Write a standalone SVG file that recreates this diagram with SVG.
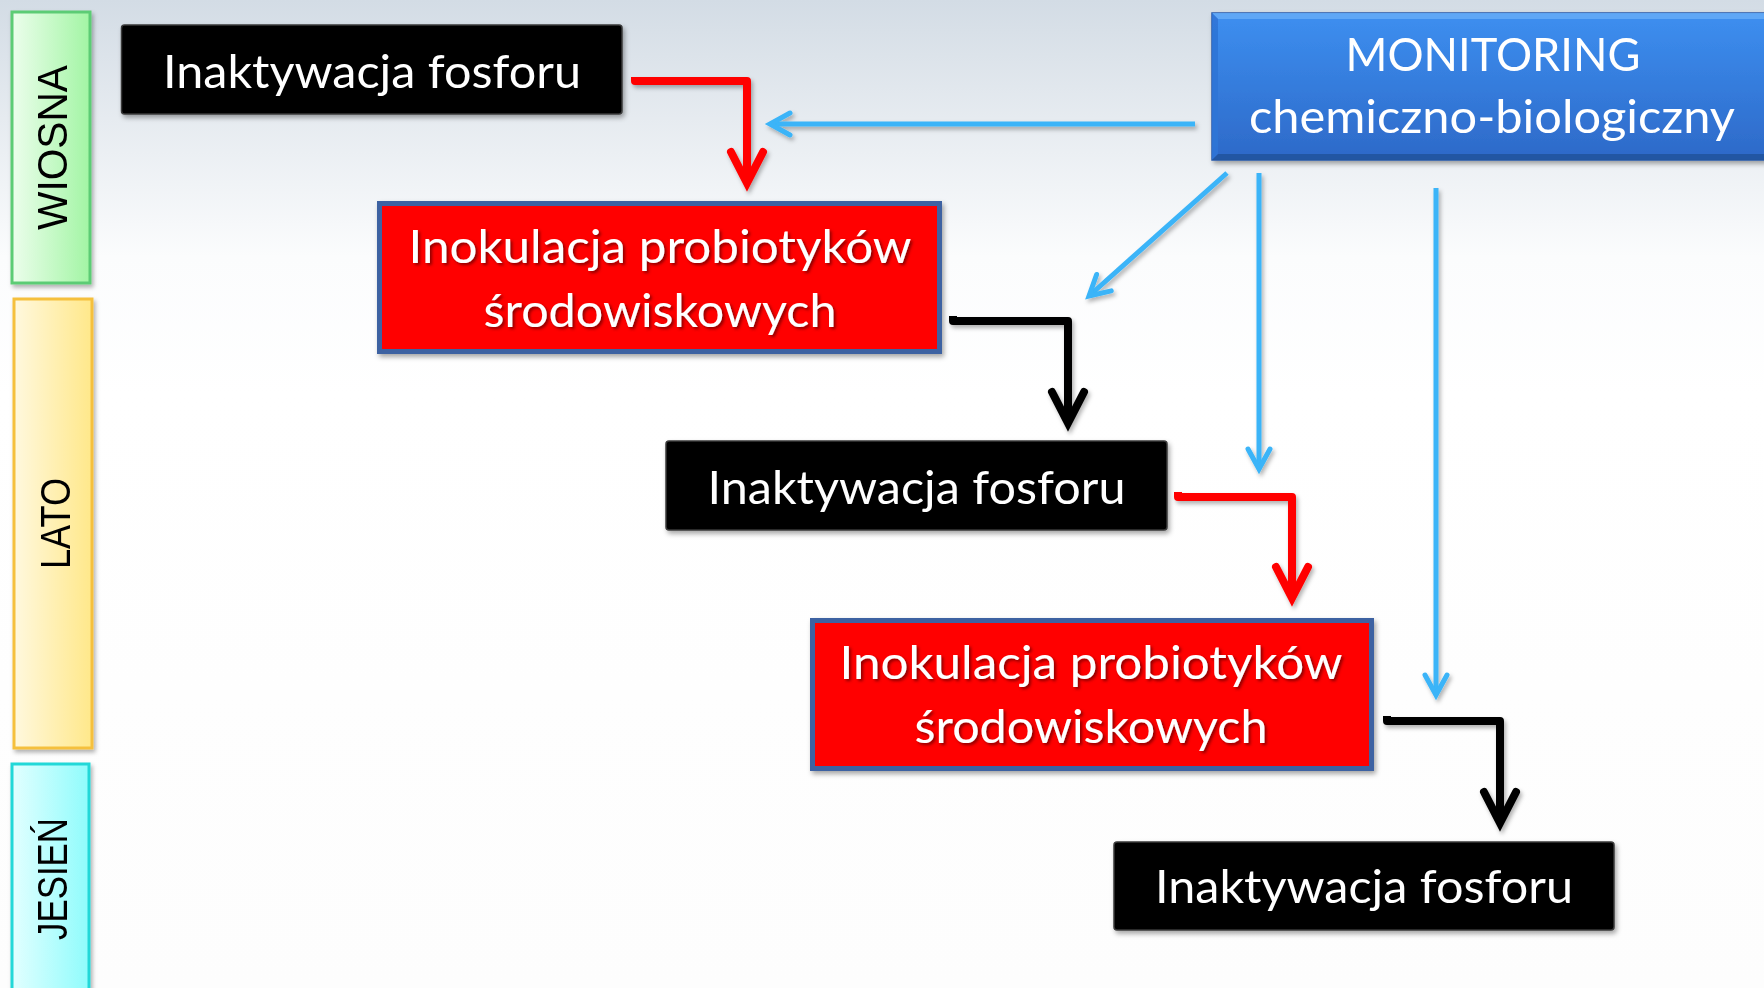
<svg xmlns="http://www.w3.org/2000/svg" width="1764" height="988" viewBox="0 0 1764 988">
<defs>
  <linearGradient id="bg" x1="0" y1="0" x2="0" y2="1">
    <stop offset="0" stop-color="#d3dce5"/>
    <stop offset="0.12" stop-color="#e6ebf0"/>
    <stop offset="0.26" stop-color="#fbfcfd"/>
    <stop offset="0.4" stop-color="#ffffff"/>
    <stop offset="1" stop-color="#fdfdfd"/>
  </linearGradient>
  <linearGradient id="gSpring" x1="0" y1="0" x2="1" y2="0">
    <stop offset="0" stop-color="#ecfeec"/>
    <stop offset="1" stop-color="#a2f5a4"/>
  </linearGradient>
  <linearGradient id="gSummer" x1="0" y1="0" x2="1" y2="0">
    <stop offset="0" stop-color="#fff8de"/>
    <stop offset="1" stop-color="#ffe88a"/>
  </linearGradient>
  <linearGradient id="gAutumn" x1="0" y1="0" x2="1" y2="0">
    <stop offset="0" stop-color="#e2ffff"/>
    <stop offset="1" stop-color="#8ffcfc"/>
  </linearGradient>
  <linearGradient id="gBlue" x1="0" y1="0" x2="0" y2="1">
    <stop offset="0" stop-color="#3d8ff0"/>
    <stop offset="1" stop-color="#2d69c8"/>
  </linearGradient>
  <filter id="shadow" x="-10%" y="-10%" width="130%" height="140%">
    <feDropShadow dx="2" dy="3" stdDeviation="2.5" flood-color="#000" flood-opacity="0.35"/>
  </filter>
  <filter id="lshadow" x="-10%" y="-10%" width="130%" height="130%">
    <feDropShadow dx="2" dy="3" stdDeviation="2" flood-color="#000" flood-opacity="0.3"/>
  </filter>
  <filter id="tshadow" x="-10%" y="-20%" width="120%" height="150%">
    <feDropShadow dx="2" dy="2" stdDeviation="1.5" flood-color="#5a0000" flood-opacity="0.7"/>
  </filter>
  <marker id="arrRed" markerUnits="userSpaceOnUse" viewBox="-40 -24 48 48" markerWidth="48" markerHeight="48" refX="0" refY="0" orient="auto" overflow="visible">
    <path d="M-31,-16 L0,0 L-31,16" fill="none" stroke="#ff0000" stroke-width="8" stroke-linecap="round" stroke-linejoin="miter"/>
  </marker>
  <marker id="arrBlack" markerUnits="userSpaceOnUse" viewBox="-40 -24 48 48" markerWidth="48" markerHeight="48" refX="0" refY="0" orient="auto" overflow="visible">
    <path d="M-31,-16 L0,0 L-31,16" fill="none" stroke="#000000" stroke-width="8" stroke-linecap="round" stroke-linejoin="miter"/>
  </marker>
  <marker id="arrBlue" markerUnits="userSpaceOnUse" viewBox="-30 -16 36 32" markerWidth="36" markerHeight="32" refX="0" refY="0" orient="auto" overflow="visible">
    <path d="M-20,-11 L0,0 L-20,11" fill="none" stroke="#3ab4f8" stroke-width="5" stroke-linecap="round" stroke-linejoin="miter"/>
  </marker>
</defs>
<style>
  .season { font-family: "Liberation Sans", Arial, sans-serif; font-size: 43px; fill: #000; text-anchor: middle; }
  .lbl { font-family: Lato, "Open Sans", sans-serif; font-size: 47px; fill: #fff; text-anchor: middle; }
  .blackbox { fill: #000; stroke: #3a3a3a; stroke-width: 1.5; }
  .redbox { fill: #ff0000; stroke: #3c62a2; stroke-width: 5; }
  .red { fill: none; stroke: #ff0000; stroke-width: 8; stroke-linejoin: round; marker-end: url(#arrRed); }
  .blk { fill: none; stroke: #000; stroke-width: 8; stroke-linejoin: round; marker-end: url(#arrBlack); }
  .blue { fill: none; stroke: #3ab4f8; stroke-width: 5; marker-end: url(#arrBlue); }
</style>

<rect x="0" y="0" width="1764" height="988" fill="url(#bg)"/>

<g id="season-wiosna" filter="url(#lshadow)">
  <rect x="12" y="12" width="78" height="271" fill="url(#gSpring)" stroke="#5ccc74" stroke-width="3"/>
  <text class="season" transform="translate(67,147.5) rotate(-90)" textLength="165" lengthAdjust="spacingAndGlyphs">WIOSNA</text>
</g>
<g id="season-lato" filter="url(#lshadow)">
  <rect x="14" y="299" width="78" height="449" fill="url(#gSummer)" stroke="#f5c03c" stroke-width="3"/>
  <text class="season" transform="translate(70,523.5) rotate(-90)" textLength="91" lengthAdjust="spacingAndGlyphs">LATO</text>
</g>
<g id="season-jesien" filter="url(#lshadow)">
  <rect x="12" y="764" width="77" height="240" fill="url(#gAutumn)" stroke="#22d8d8" stroke-width="3"/>
  <text class="season" transform="translate(67,879) rotate(-90)" textLength="122" lengthAdjust="spacingAndGlyphs">JESIEŃ</text>
</g>

<g id="connectors" filter="url(#lshadow)">
  <path class="blue" d="M1195,124 H770"/>
  <path class="blue" d="M1227,173 L1089,296"/>
  <path class="blue" d="M1259,173 V469"/>
  <path class="blue" d="M1436,188 V695"/>
  <path class="red" d="M635,77 V81 H747 V183"/>
  <path class="blk" d="M953,316 V321 H1068 V423"/>
  <path class="red" d="M1178,492 V497 H1292 V598"/>
  <path class="blk" d="M1387,716 V721 H1500 V823"/>
</g>

<g id="monitoring" filter="url(#shadow)">
  <rect x="1212" y="13" width="570" height="147" fill="url(#gBlue)" stroke="#2a5aa8" stroke-width="1.5"/>
  <polygon points="1212,13 1782,13 1776,19 1218,19" fill="#62aaf6" opacity="0.9"/>
  <polygon points="1212,13 1218,19 1218,154 1212,160" fill="#2f74d6" opacity="0.9"/>
  <polygon points="1212,160 1218,154 1776,154 1782,160" fill="#24549e" opacity="0.9"/>
  <text class="lbl" x="1493" y="71" textLength="295" lengthAdjust="spacingAndGlyphs">MONITORING</text>
  <text class="lbl" x="1492" y="133" textLength="486" lengthAdjust="spacingAndGlyphs">chemiczno-biologiczny</text>
</g>

<g id="inaktywacja-1" filter="url(#shadow)">
  <rect class="blackbox" x="121.5" y="25" width="500.5" height="89" rx="3"/>
  <text class="lbl" x="372" y="88" textLength="418" lengthAdjust="spacingAndGlyphs">Inaktywacja fosforu</text>
</g>

<g id="inokulacja-1">
  <rect class="redbox" x="379.5" y="203.5" width="560" height="148" filter="url(#shadow)"/>
  <g filter="url(#tshadow)">
    <text class="lbl" x="660" y="263" textLength="503" lengthAdjust="spacingAndGlyphs">Inokulacja probiotyków</text>
    <text class="lbl" x="660" y="327" textLength="353" lengthAdjust="spacingAndGlyphs">środowiskowych</text>
  </g>
</g>

<g id="inaktywacja-2" filter="url(#shadow)">
  <rect class="blackbox" x="666" y="441" width="501" height="89" rx="3"/>
  <text class="lbl" x="916.5" y="504" textLength="418" lengthAdjust="spacingAndGlyphs">Inaktywacja fosforu</text>
</g>

<g id="inokulacja-2">
  <rect class="redbox" x="812.5" y="620.5" width="559" height="148" filter="url(#shadow)"/>
  <g filter="url(#tshadow)">
    <text class="lbl" x="1091" y="679" textLength="503" lengthAdjust="spacingAndGlyphs">Inokulacja probiotyków</text>
    <text class="lbl" x="1091" y="743" textLength="353" lengthAdjust="spacingAndGlyphs">środowiskowych</text>
  </g>
</g>

<g id="inaktywacja-3" filter="url(#shadow)">
  <rect class="blackbox" x="1114" y="842" width="500" height="88" rx="3"/>
  <text class="lbl" x="1364" y="903" textLength="418" lengthAdjust="spacingAndGlyphs">Inaktywacja fosforu</text>
</g>
</svg>
